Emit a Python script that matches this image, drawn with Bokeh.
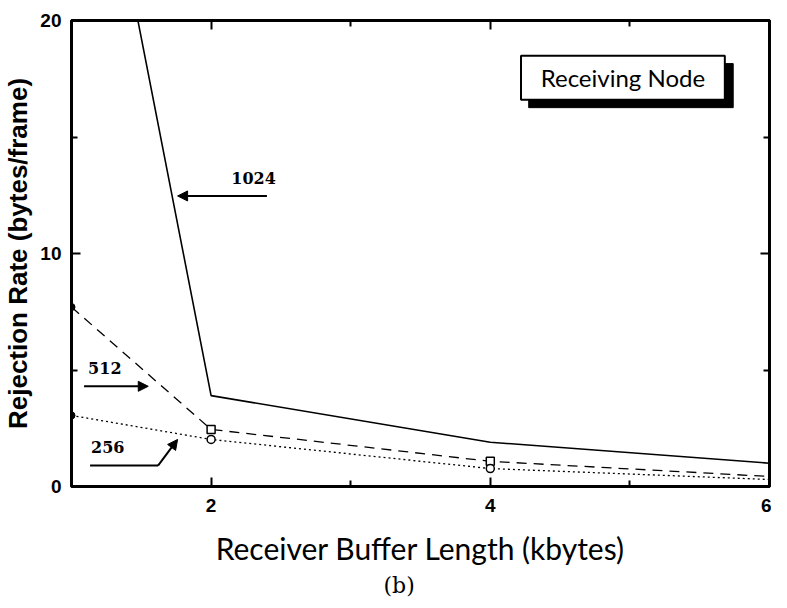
from bokeh.plotting import figure
from bokeh.models import (FixedTicker, LinearAxis, Range1d, Arrow, NormalHead,
                          Label, BoxAnnotation, Title, CustomJSTickFormatter)
from bokeh.embed import file_html
from bokeh.resources import INLINE

# ---- data ----
buffer_kb = [1, 2, 4, 6]
rate_1024 = [34.6, 3.9, 1.9, 1.0]
rate_512 = [7.7, 2.45, 1.08, 0.43]
rate_256 = [3.05, 2.02, 0.77, 0.3]
marker_x = [2, 4]
marker_512 = [2.45, 1.08]
marker_256 = [2.02, 0.77]
x_ticks = [2, 4, 6]
x_minor = [3, 5]
y_ticks = [0, 10, 20]
y_minor = [5, 15]

p = figure(width=771, height=600, output_backend="svg", toolbar_location=None,
           x_range=Range1d(1, 6), y_range=Range1d(0, 20),
           min_border_left=69, min_border_right=2, min_border_top=20,
           min_border_bottom=100, x_axis_location=None, y_axis_location=None)
p.grid.visible = False
p.outline_line_color = "black"
p.outline_line_width = 3
p.background_fill_color = "white"
p.border_fill_color = "white"

tick_font = "Liberation Sans"

def style_axis(ax, ticks, minor, show_labels):
    ax.ticker = FixedTicker(ticks=ticks, minor_ticks=minor)
    ax.axis_line_color = "black"
    ax.axis_line_width = 3
    ax.major_tick_in = 9
    ax.major_tick_out = 0
    ax.minor_tick_in = 6
    ax.minor_tick_out = 0
    ax.major_tick_line_width = 2
    ax.minor_tick_line_width = 2
    ax.major_label_text_font = tick_font
    ax.major_label_text_font_style = "bold"
    ax.major_label_text_font_size = "19px"
    ax.major_label_text_color = "black"
    if not show_labels:
        ax.formatter = CustomJSTickFormatter(code="return ''")
        ax.major_label_standoff = 0

xb = LinearAxis()
style_axis(xb, x_ticks, x_minor, True)
xb.major_label_standoff = 12
xb.axis_label = "Receiver Buffer Length (kbytes)"
xb.axis_label_text_font = "Lato"
xb.axis_label_text_font_style = "normal"
xb.axis_label_text_font_size = "30px"
xb.axis_label_standoff = 15
xb.axis_label_text_color = "black"
p.add_layout(xb, "below")

yl = LinearAxis()
style_axis(yl, y_ticks, y_minor, True)
yl.major_label_standoff = 10
yl.axis_label = "Rejection Rate (bytes/frame)"
yl.axis_label_text_font = "Liberation Sans"
yl.axis_label_text_font_style = "bold"
yl.axis_label_text_font_size = "26px"
yl.axis_label_standoff = 4
yl.axis_label_text_color = "black"
p.add_layout(yl, "left")

xt = LinearAxis()
style_axis(xt, x_ticks, x_minor, False)
p.add_layout(xt, "above")

yr = LinearAxis()
style_axis(yr, y_ticks, y_minor, False)
p.add_layout(yr, "right")

p.add_layout(Title(text="(b)", text_font="DejaVu Serif", text_font_size="22px",
                   text_font_style="normal", align="left", offset=312,
                   text_color="black", standoff=5), "below")

# ---- series ----
p.line(buffer_kb, rate_1024, line_color="black", line_width=1.6)
p.line(buffer_kb, rate_512, line_color="black", line_width=1.3, line_dash="10 7")
p.line(buffer_kb, rate_256, line_color="black", line_width=1.3, line_dash="2 3")

p.scatter(marker_x, marker_512, marker="square", size=8, fill_color="white",
          line_color="black", line_width=1.5)
p.scatter(marker_x, marker_256, marker="circle", size=8, fill_color="white",
          line_color="black", line_width=1.5)
p.scatter([buffer_kb[0]], [rate_512[0]], marker="circle", size=7, color="black")
p.scatter([buffer_kb[0]], [rate_256[0]], marker="circle", size=7, color="black")

# ---- annotations ----
def head():
    return NormalHead(size=10, fill_color="black", line_color="black")

lab_font = "DejaVu Serif"
p.add_layout(Label(x=2.145, y=13.0, text="1024", text_font=lab_font,
                   text_font_style="bold", text_font_size="16px",
                   text_color="black", text_baseline="bottom"))
p.add_layout(Arrow(end=head(), x_start=2.40, y_start=12.47, x_end=1.76, y_end=12.47,
                   line_width=2, line_color="black"))

p.add_layout(Label(x=1.119, y=4.82, text="512", text_font=lab_font,
                   text_font_style="bold", text_font_size="16px",
                   text_color="black", text_baseline="bottom"))
p.add_layout(Arrow(end=head(), x_start=1.09, y_start=4.30, x_end=1.55, y_end=4.30,
                   line_width=2, line_color="black"))

p.add_layout(Label(x=1.14, y=1.42, text="256", text_font=lab_font,
                   text_font_style="bold", text_font_size="16px",
                   text_color="black", text_baseline="bottom"))
p.line([1.133, 1.62], [0.90, 0.90], line_color="black", line_width=2)
p.add_layout(Arrow(end=head(), x_start=1.62, y_start=0.90, x_end=1.76, y_end=2.02,
                   line_width=2, line_color="black"))

# "Receiving Node" box with drop shadow
p.add_layout(BoxAnnotation(left=4.275, right=5.74, bottom=16.26, top=18.15,
                           fill_color="black", fill_alpha=1, line_color="black",
                           line_alpha=1))
p.add_layout(BoxAnnotation(left=4.22, right=5.68, bottom=16.60, top=18.49,
                           fill_color="white", fill_alpha=1, line_color="black",
                           line_alpha=1, line_width=2))
p.add_layout(Label(x=4.95, y=17.55, text="Receiving Node", text_font="Lato",
                   text_font_size="24px", text_color="black",
                   text_align="center", text_baseline="middle"))

open("out.html", "w").write(file_html(p, INLINE))
